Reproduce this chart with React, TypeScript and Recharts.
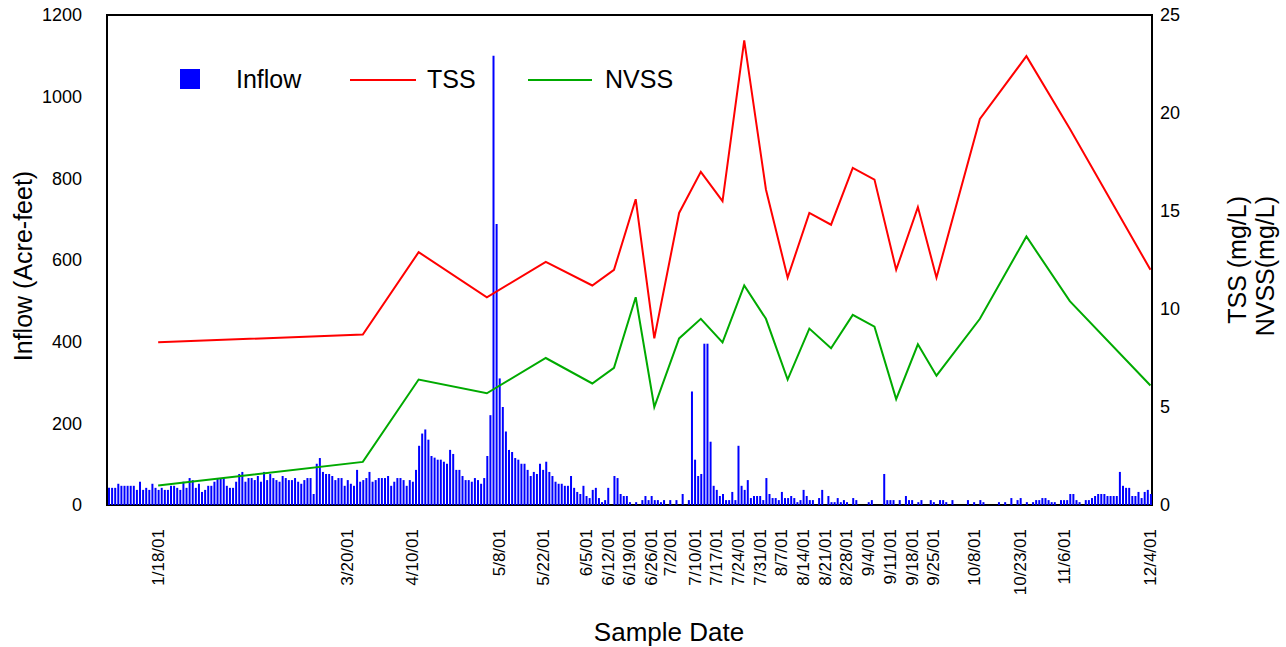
import React from 'react';
import { ComposedChart, Bar, Line, XAxis, YAxis, Legend, ReferenceArea } from 'recharts';

const FONT = '"Liberation Sans", Arial, Helvetica, sans-serif';

// Daily inflow (acre-feet), one value per day starting on inflowStart
const inflowStart = '1/2/01';
const inflowJan = [42, 42, 42, 52, 47, 47, 47, 47, 47, 37, 57, 37, 42, 37, 52, 42, 37, 42, 37, 37, 47, 47, 42, 37, 57, 42, 66, 61, 42, 52];
const inflowFeb = [32, 37, 47, 47, 57, 66, 66, 66, 47, 42, 42, 57, 76, 81, 57, 66, 66, 61, 71, 57, 81, 61, 76, 66, 61, 57, 71, 66];
const inflowMar = [61, 61, 66, 57, 52, 61, 66, 66, 27, 101, 115, 81, 76, 76, 71, 61, 66, 66, 47, 61, 52, 47, 86, 57, 61, 66, 81, 57, 61, 66, 66];
const inflowApr = [66, 71, 47, 57, 66, 66, 61, 47, 61, 57, 86, 145, 175, 185, 160, 120, 116, 111, 111, 106, 101, 135, 125, 86, 86, 71, 61, 61, 57, 66];
const inflowMay = [61, 52, 66, 120, 220, 1100, 688, 310, 240, 180, 135, 130, 115, 111, 101, 101, 86, 71, 81, 76, 101, 86, 106, 81, 71, 57, 52, 52, 47, 47, 71];
const inflowJun = [42, 32, 27, 47, 22, 17, 37, 42, 17, 7, 12, 42, 0, 71, 66, 27, 22, 22, 7, 0, 7, 0, 12, 22, 12, 22, 12, 12, 7, 12];
const inflowJul = [0, 12, 0, 12, 0, 27, 0, 12, 278, 111, 71, 76, 395, 395, 155, 47, 37, 22, 27, 12, 12, 32, 12, 145, 47, 37, 61, 17, 22, 22, 22];
const inflowAug = [12, 66, 27, 17, 17, 12, 32, 17, 17, 22, 17, 7, 12, 37, 22, 12, 12, 0, 17, 37, 0, 22, 7, 7, 17, 7, 12, 7, 0, 17, 12];
const inflowSep = [0, 0, 0, 7, 12, 0, 0, 0, 76, 12, 12, 12, 0, 12, 0, 22, 12, 12, 0, 7, 12, 0, 0, 12, 7, 0, 12, 12, 7, 0];
const inflowOct = [12, 0, 0, 0, 0, 12, 0, 7, 0, 12, 7, 0, 0, 0, 0, 7, 0, 7, 0, 17, 0, 12, 17, 0, 7, 0, 7, 12, 12, 17, 17];
const inflowNov = [12, 7, 7, 0, 12, 12, 12, 27, 27, 12, 7, 0, 12, 12, 17, 22, 27, 27, 27, 22, 22, 22, 22, 81, 47, 42, 42, 22, 22, 32];
const inflowDec = [17, 32, 37, 27];

// Axis labels along the date axis
const tickDates = [
  '1/18/01', '3/20/01', '4/10/01', '5/8/01', '5/22/01', '6/5/01', '6/12/01', '6/19/01', '6/26/01',
  '7/2/01', '7/10/01', '7/17/01', '7/24/01', '7/31/01', '8/7/01', '8/14/01', '8/21/01', '8/28/01',
  '9/4/01', '9/11/01', '9/18/01', '9/25/01', '10/8/01', '10/23/01', '11/6/01', '12/4/01',
];

// Suspended solids (mg/L), plotted on these dates
const sampleDates = [
  '1/18/01', '3/25/01', '4/12/01', '5/4/01', '5/23/01', '6/7/01', '6/14/01', '6/21/01', '6/27/01',
  '7/5/01', '7/12/01', '7/19/01', '7/26/01', '8/2/01', '8/9/01', '8/16/01', '8/23/01', '8/30/01',
  '9/6/01', '9/13/01', '9/20/01', '9/26/01', '10/10/01', '10/25/01', '11/8/01', '12/4/01',
];
const tssValues = [8.3, 8.7, 12.9, 10.6, 12.4, 11.2, 12.0, 15.6, 8.5, 14.9, 17.0, 15.5, 23.7, 16.1, 11.6, 14.9, 14.3, 17.2, 16.6, 12.0, 15.2, 11.6, 19.7, 22.9, 19.2, 12.0];
const nvssValues = [1.0, 2.2, 6.4, 5.7, 7.5, 6.2, 7.0, 10.6, 5.0, 8.5, 9.5, 8.3, 11.2, 9.5, 6.4, 9.0, 8.0, 9.7, 9.1, 5.4, 8.2, 6.6, 9.5, 13.7, 10.4, 6.1];

const inflowTicks = [0, 200, 400, 600, 800, 1000, 1200];
const solidsTicks = [0, 5, 10, 15, 20, 25];

type Row = { day: number; inflow: number; tss?: number; nvss?: number };

const dayOfYear = (date: string) => {
  const [m, d] = date.split('/').map(Number);
  return Math.round((Date.UTC(2001, m - 1, d) - Date.UTC(2001, 0, 0)) / 86400000);
};

const inflowDaily = [
  ...inflowJan, ...inflowFeb, ...inflowMar, ...inflowApr, ...inflowMay, ...inflowJun,
  ...inflowJul, ...inflowAug, ...inflowSep, ...inflowOct, ...inflowNov, ...inflowDec,
];
const firstDay = dayOfYear(inflowStart);
const tickDays = tickDates.map(dayOfYear);

const rows: Row[] = inflowDaily.map((inflow, i) => ({ day: firstDay + i, inflow }));
sampleDates.map(dayOfYear).forEach((day, i) => {
  const row = rows[day - firstDay];
  if (row) {
    row.tss = tssValues[i];
    row.nvss = nvssValues[i];
  }
});

const labelByDay = new Map(tickDays.map((d, i) => [d, tickDates[i]]));
const lastDay = firstDay + inflowDaily.length - 1;
const xDomain: [number, number] = [firstDay - 0.5, lastDay + 0.5];

function DateTick(props: any) {
  const { x, y, payload } = props;
  return (
    <text
      x={x}
      y={y}
      transform={`rotate(-90, ${x}, ${y})`}
      textAnchor="end"
      dy="0.35em"
      fontSize={17}
      fontFamily={FONT}
      fill="#000"
    >
      {labelByDay.get(payload.value)}
    </text>
  );
}

function InflowTitle() {
  return (
    <text x={23} y={266} transform="rotate(-90, 23, 266)" textAnchor="middle" dy="0.35em" fontSize={25} fontFamily={FONT} fill="#000">
      Inflow (Acre-feet)
    </text>
  );
}

function SolidsTitle() {
  return (
    <g fontSize={25} fontFamily={FONT} fill="#000">
      <text x={1237} y={196} transform="rotate(-90, 1237, 196)" textAnchor="end" dy="0.35em">TSS (mg/L)</text>
      <text x={1265} y={196} transform="rotate(-90, 1265, 196)" textAnchor="end" dy="0.35em">NVSS(mg/L)</text>
    </g>
  );
}

function DateTitle() {
  return (
    <text x={669} y={632} textAnchor="middle" dy="0.35em" fontSize={26} fontFamily={FONT} fill="#000">
      Sample Date
    </text>
  );
}

function LegendBox() {
  return (
    <svg width={520} height={40} style={{ display: 'block' }} fontFamily={FONT} fontSize={25}>
      <rect x={1} y={9} width={20} height={20} fill="#0000FF" />
      <text x={57} y={28} fill="#000">Inflow</text>
      <line x1={171} x2={237} y1={20} y2={20} stroke="#FF0000" strokeWidth={2} />
      <text x={248} y={28} fill="#000">TSS</text>
      <line x1={349} x2={413} y1={20} y2={20} stroke="#00AA00" strokeWidth={2} />
      <text x={426} y={28} fill="#000">NVSS</text>
    </svg>
  );
}

export default function App() {
  const tickStyle = { fontSize: 18, fill: '#000', fontFamily: FONT };
  return (
    <div style={{ position: 'absolute', left: 0, top: 0, width: 1286, height: 647, background: '#fff' }}>
      <ComposedChart width={1286} height={647} data={rows} margin={{ top: 15, right: 0, bottom: 0, left: 0 }}>
        <XAxis
          dataKey="day"
          type="number"
          domain={xDomain}
          ticks={tickDays}
          interval={0}
          height={142}
          axisLine={false}
          tickLine={false}
          tickSize={0}
          tickMargin={24}
          tick={<DateTick />}
          label={<DateTitle />}
        />
        <YAxis
          yAxisId="left"
          domain={[0, 1200]}
          ticks={inflowTicks}
          width={107}
          axisLine={false}
          tickLine={false}
          tickSize={0}
          tickMargin={25}
          tick={tickStyle}
          label={<InflowTitle />}
        />
        <YAxis
          yAxisId="right"
          orientation="right"
          domain={[0, 25]}
          ticks={solidsTicks}
          width={134}
          axisLine={false}
          tickLine={false}
          tickSize={0}
          tickMargin={8}
          tick={tickStyle}
          label={<SolidsTitle />}
        />
        <Bar yAxisId="left" dataKey="inflow" fill="#0000FF" barSize={2} isAnimationActive={false} />
        <Line
          yAxisId="right"
          dataKey="tss"
          stroke="#FF0000"
          strokeWidth={2}
          dot={false}
          activeDot={false}
          connectNulls
          isAnimationActive={false}
        />
        <Line
          yAxisId="right"
          dataKey="nvss"
          stroke="#00AA00"
          strokeWidth={2}
          dot={false}
          activeDot={false}
          connectNulls
          isAnimationActive={false}
        />
        <ReferenceArea
          yAxisId="left"
          x1={xDomain[0]}
          x2={xDomain[1]}
          y1={0}
          y2={1200}
          fill="none"
          stroke="#000"
          strokeWidth={2}
        />
        <Legend
          verticalAlign="middle"
          align="center"
          content={() => <LegendBox />}
          wrapperStyle={{ left: 179, top: 60, width: 520, height: 40 }}
        />
      </ComposedChart>
    </div>
  );
}
